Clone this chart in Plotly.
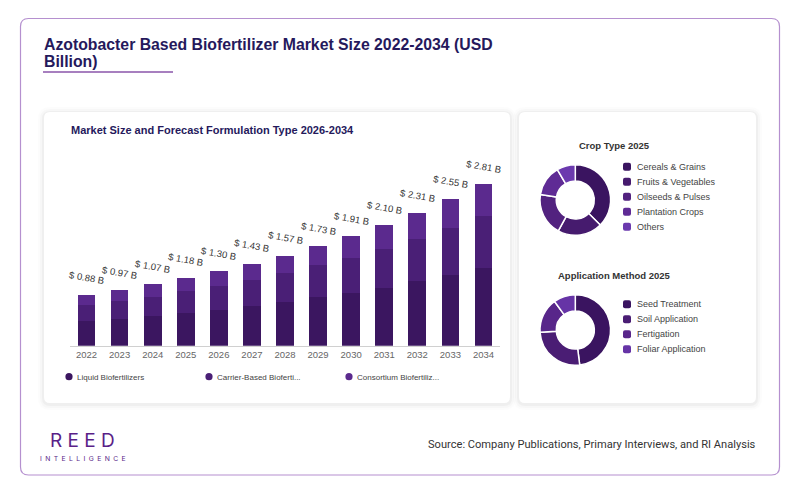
import plotly.graph_objects as go

W, H = 800, 493
OFF = 8  # page body margin in the browser

years = [str(y) for y in range(2022, 2035)]
liquid = [0.43, 0.47, 0.51, 0.57, 0.62, 0.69, 0.76, 0.84, 0.92, 1.01, 1.12, 1.23, 1.36]
carrier = [0.28, 0.31, 0.34, 0.38, 0.42, 0.46, 0.50, 0.56, 0.61, 0.68, 0.74, 0.82, 0.90]
consortium = [0.17, 0.19, 0.22, 0.23, 0.26, 0.28, 0.31, 0.33, 0.38, 0.41, 0.45, 0.50, 0.55]
totals = [0.88, 0.97, 1.07, 1.18, 1.30, 1.43, 1.57, 1.73, 1.91, 2.10, 2.31, 2.55, 2.81]
bar_names = ["Liquid Biofertilizers", "Carrier-Based Bioferti...", "Consortium Biofertiliz..."]

crop_labels = ["Cereals & Grains", "Fruits & Vegetables", "Oilseeds & Pulses", "Plantation Crops", "Others"]
crop_values = [37.5, 20.5, 19.5, 14.0, 8.5]
app_labels = ["Seed Treatment", "Soil Application", "Fertigation", "Foliar Application"]
app_values = [48, 26, 16, 10]

bar_colors = ["#3b1660", "#4a1f76", "#5b2a8e"]
crop_colors = ["#3a1460", "#461b6e", "#52227f", "#5f2b95", "#6b3aae"]
app_colors = ["#3a1460", "#4a1d74", "#58268a", "#6634a6"]


def px(x):
    return (x - OFF) / W


def py(y):
    return 1 - (y - OFF) / H


def rrect(x0, y0, x1, y1, r):
    # rounded rectangle path in paper coords
    pts = [
        f"M {px(x0 + r)},{py(y0)}",
        f"L {px(x1 - r)},{py(y0)}",
        f"Q {px(x1)},{py(y0)} {px(x1)},{py(y0 + r)}",
        f"L {px(x1)},{py(y1 - r)}",
        f"Q {px(x1)},{py(y1)} {px(x1 - r)},{py(y1)}",
        f"L {px(x0 + r)},{py(y1)}",
        f"Q {px(x0)},{py(y1)} {px(x0)},{py(y1 - r)}",
        f"L {px(x0)},{py(y0 + r)}",
        f"Q {px(x0)},{py(y0)} {px(x0 + r)},{py(y0)}",
        "Z",
    ]
    return " ".join(pts)


fig = go.Figure()

for name, vals, col in zip(bar_names, [liquid, carrier, consortium], bar_colors):
    fig.add_trace(go.Bar(x=years, y=vals, name=name, marker=dict(color=col, line=dict(width=0)),
                         showlegend=False, hoverinfo="x+y"))

fig.add_trace(go.Pie(labels=crop_labels, values=crop_values, hole=0.54, sort=False,
                     direction="clockwise", rotation=0, textinfo="none", showlegend=False,
                     marker=dict(colors=crop_colors, line=dict(color="white", width=1.5)),
                     domain=dict(x=[px(540), px(610.6)], y=[py(235.3), py(164.7)])))
fig.add_trace(go.Pie(labels=app_labels, values=app_values, hole=0.54, sort=False,
                     direction="clockwise", rotation=0, textinfo="none", showlegend=False,
                     marker=dict(colors=app_colors, line=dict(color="white", width=1.5)),
                     domain=dict(x=[px(540), px(610.6)], y=[py(365.3), py(294.7)])))

shapes = []
# outer card
shapes.append(dict(type="path", path=rrect(20.5, 18.5, 779.5, 475, 8), xref="paper", yref="paper",
                   line=dict(color="#b590cf", width=1.2), fillcolor="white", layer="below"))
# panel shadows + panels
for (x0, y0, x1, y1) in [(44, 112, 510, 403), (519, 112, 756, 403)]:
    for k, a in [(6, 0.012), (4, 0.02), (2, 0.03)]:
        shapes.append(dict(type="path", path=rrect(x0 - k, y0 - k + 1, x1 + k, y1 + k + 1, 6 + k),
                           xref="paper", yref="paper", line=dict(width=0),
                           fillcolor=f"rgba(0,0,0,{a})", layer="below"))
    shapes.append(dict(type="path", path=rrect(x0, y0, x1, y1, 6), xref="paper", yref="paper",
                       line=dict(width=0), fillcolor="white", layer="below"))
# title underline
shapes.append(dict(type="line", xref="paper", yref="paper", x0=px(43), x1=px(173), y0=py(72), y1=py(72),
                   line=dict(color="#8a55aa", width=1.5)))

annotations = []
for line, ly in [("Azotobacter Based Biofertilizer Market Size 2022-2034 (USD", 44.5), ("Billion)", 62)]:
    annotations.append(dict(text=f"<b>{line}</b>", x=px(42), y=py(ly), xref="paper", yref="paper",
                            xanchor="left", yanchor="middle", showarrow=False,
                            font=dict(family="Liberation Sans", size=15.8, color="#25195c")))
annotations.append(dict(text="<b>Market Size and Forecast Formulation Type 2026-2034</b>",
                        x=px(69), y=py(130), xref="paper", yref="paper", xanchor="left", yanchor="middle",
                        showarrow=False, font=dict(family="Liberation Sans", size=11, color="#25195c")))

for i, t in enumerate(totals):
    annotations.append(dict(text=f"$ {t:.2f} B", x=i, y=t, xref="x", yref="y", yshift=18,
                            textangle=10, showarrow=False,
                            font=dict(family="Liberation Sans", size=9.5, color="#333333")))

# bar legend
for name, col, lx in zip(bar_names, bar_colors, [69, 209, 349]):
    shapes.append(dict(type="circle", xref="paper", yref="paper", x0=px(lx - 3.6), x1=px(lx + 3.6),
                       y0=py(376.7 + 3.6), y1=py(376.7 - 3.6), fillcolor=col, line=dict(width=0)))
    annotations.append(dict(text=name, x=px(lx + 6), y=py(377), xref="paper", yref="paper",
                            xanchor="left", yanchor="middle", showarrow=False,
                            font=dict(family="Liberation Sans", size=8, color="#444")))

# donut titles and legends
for title, ty, labels, cols, ly0 in [("Crop Type 2025", 145.7, crop_labels, crop_colors, 166.7),
                                     ("Application Method 2025", 275.7, app_labels, app_colors, 304.3)]:
    annotations.append(dict(text=f"<b>{title}</b>", x=px(614), y=py(ty), xref="paper", yref="paper",
                            xanchor="center", yanchor="middle", showarrow=False,
                            font=dict(family="Liberation Sans", size=9.5, color="#333")))
    for i, (lab, col) in enumerate(zip(labels, cols)):
        yy = ly0 + 15 * i
        shapes.append(dict(type="path", path=rrect(623, yy - 4, 631, yy + 4, 2), xref="paper", yref="paper",
                           fillcolor=col, line=dict(width=0)))
        annotations.append(dict(text=lab, x=px(634.5), y=py(yy), xref="paper", yref="paper",
                                xanchor="left", yanchor="middle", showarrow=False,
                                font=dict(family="Liberation Sans", size=9, color="#444")))

# footer
annotations.append(dict(text="R E E D", x=px(82.5), y=py(440), xref="paper", yref="paper",
                        xanchor="center", yanchor="middle", showarrow=False,
                        font=dict(family="Inter", size=19, color="#5a1f88")))
annotations.append(dict(text="\u2002".join("INTELLIGENCE"), x=px(83), y=py(458), xref="paper", yref="paper",
                        xanchor="center", yanchor="middle", showarrow=False,
                        font=dict(family="Inter", size=6.8, color="#5a1f88")))
annotations.append(dict(text="Source: Company Publications, Primary Interviews, and RI Analysis",
                        x=px(758), y=py(444), xref="paper", yref="paper", xanchor="right", yanchor="middle",
                        showarrow=False, font=dict(family="Roboto", size=11.1, color="#333")))

fig.update_layout(
    width=W, height=H, margin=dict(l=0, r=0, t=0, b=0),
    paper_bgcolor="white", plot_bgcolor="rgba(0,0,0,0)",
    barmode="stack", bargap=0.465,
    xaxis=dict(domain=[px(70), px(500)], type="category", range=[-0.5, 12.5],
               showline=True, linecolor="#d0d0d0", linewidth=1, ticks="", showgrid=False,
               tickfont=dict(family="Liberation Sans", size=9.5, color="#666"), fixedrange=True),
    yaxis=dict(domain=[py(345.7), py(150)], range=[0, 195.7 / 57.4], showgrid=False, zeroline=False,
               showticklabels=False, showline=False, ticks="", fixedrange=True),
    shapes=shapes, annotations=annotations, showlegend=False,
)

fig.write_html("out.html")
